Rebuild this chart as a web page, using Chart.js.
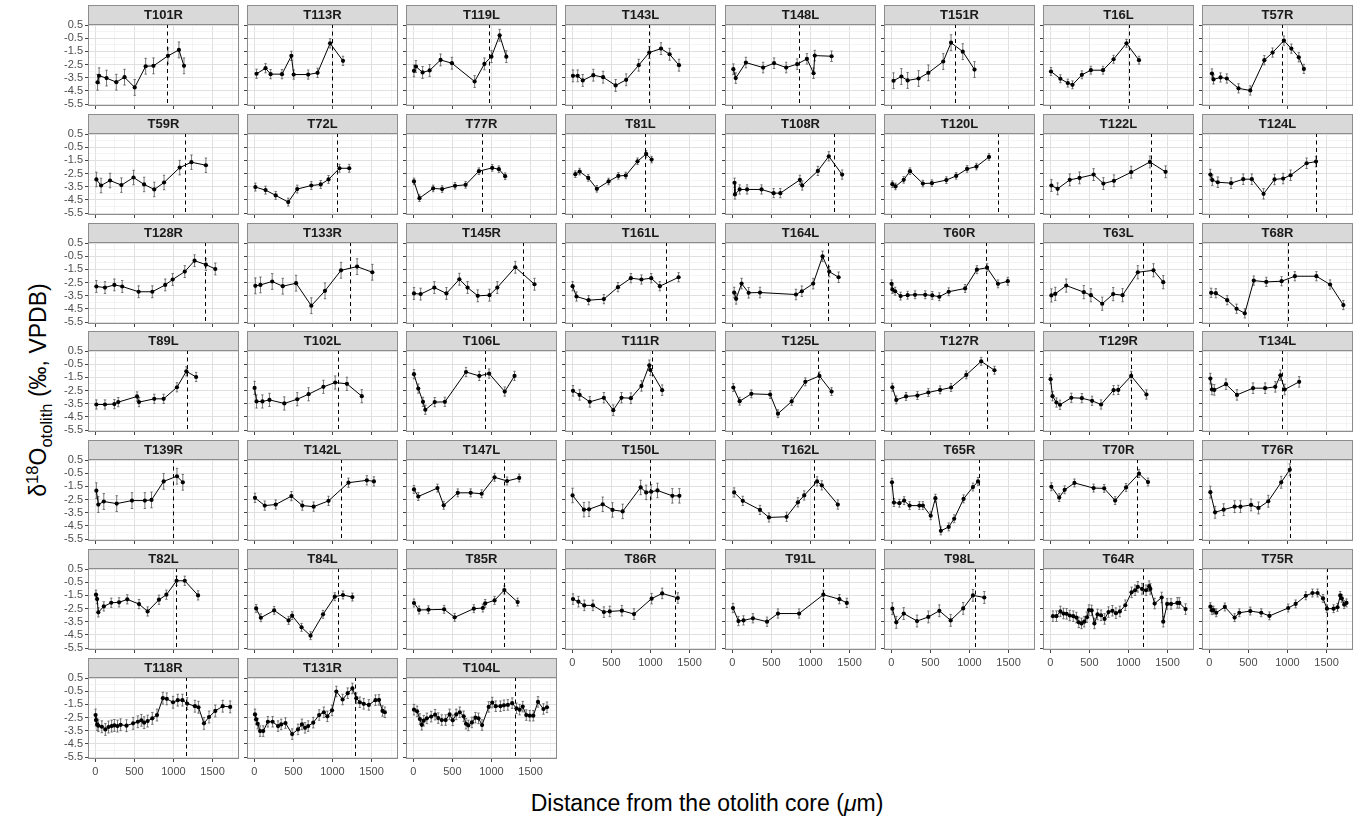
<!DOCTYPE html>
<html>
<head>
<meta charset="utf-8">
<script src="https://cdn.jsdelivr.net/npm/chart.js@4.4.1/dist/chart.umd.min.js"></script>
<style>
html, body { margin: 0; padding: 0; background: #fff; }
#fig { position: relative; width: 1361px; height: 816px; overflow: hidden; font-family: "Liberation Sans", Arial, sans-serif; }
#fig canvas { position: absolute; }
#ytitle { position: absolute; left: 40px; top: 390px; transform: translate(-50%, -50%) rotate(-90deg); white-space: nowrap; font-size: 23px; line-height: 1; color: #000; }
#xtitle { position: absolute; left: 707px; top: 803px; transform: translate(-50%, -50%); white-space: nowrap; font-size: 23px; line-height: 1; color: #000; }
#ytitle sup, #ytitle sub { font-size: 0.72em; }
</style>
</head>
<body>
<div id="fig">
  <div id="ytitle">δ<sup>18</sup>O<sub>otolith</sub> (‰, VPDB)</div>
  <div id="xtitle">Distance from the otolith core (<i>μ</i>m)</div>
</div>
<script>
// panels, row by row
const panelNames = [
  'T101R','T113R','T119L','T143L','T148L','T151R','T16L','T57R',
  'T59R','T72L','T77R','T81L','T108R','T120L','T122L','T124L',
  'T128R','T133R','T145R','T161L','T164L','T60R','T63L','T68R',
  'T89L','T102L','T106L','T111R','T125L','T127R','T129R','T134L',
  'T139R','T142L','T147L','T150L','T162L','T65R','T70R','T76R',
  'T82L','T84L','T85R','T86R','T91L','T98L','T64R','T75R',
  'T118R','T131R','T104L'
];

// distance from core (µm)
const panelX = [
  [30,50,145,270,375,505,645,745,930,1070,1135],
  [30,145,210,355,475,505,690,810,970,1135],
  [10,35,120,210,350,495,785,910,1000,1105,1190],
  [10,70,135,270,395,555,690,850,985,1135,1245,1365],
  [15,45,175,395,535,690,830,955,1040,1055,1270],
  [30,130,210,350,475,665,765,915,1065],
  [10,130,225,285,405,520,675,810,975,1135],
  [35,55,145,225,375,525,705,810,955,1050,1145,1210],

  [15,75,190,335,490,625,755,880,1080,1230,1415],
  [15,145,275,435,550,730,850,950,1090,1215],
  [10,80,255,370,535,670,840,1010,1095,1175],
  [40,95,205,315,465,590,685,835,945,1015],
  [30,35,95,190,375,530,615,865,895,1095,1235,1405],
  [15,55,160,240,405,520,705,830,970,1090,1250],
  [15,95,250,375,555,680,815,1035,1275,1475],
  [15,40,110,280,435,545,695,835,945,1040,1245,1365],

  [15,125,245,345,555,730,895,990,1145,1270,1415,1535],
  [15,80,230,365,535,730,905,1110,1315,1510],
  [10,95,270,425,590,695,825,975,1075,1305,1550],
  [5,55,210,405,585,750,885,1010,1120,1360],
  [25,50,120,210,355,815,890,1035,1155,1240,1360],
  [5,15,50,120,210,305,435,525,615,735,945,1095,1225,1365,1490],
  [15,65,205,430,520,665,805,925,1120,1320,1445],
  [25,85,230,350,455,570,730,925,1095,1370,1545,1715],

  [15,125,245,295,535,560,755,875,1045,1165,1290],
  [5,30,105,195,385,550,695,885,1035,1185,1375],
  [10,65,125,155,275,405,675,845,970,1170,1295],
  [10,95,225,405,525,630,750,885,985,1000,1150],
  [15,95,245,485,585,760,935,1115,1270],
  [15,65,190,335,475,625,765,960,1150,1320],
  [5,30,80,125,270,405,535,650,810,870,1035,1230],
  [15,35,65,215,355,560,715,845,910,965,1150],

  [15,40,110,275,470,635,720,875,1045,1120],
  [10,135,275,475,615,760,950,1205,1440,1530],
  [10,65,310,390,570,735,875,1040,1200,1355],
  [5,150,215,390,515,645,875,945,1010,1090,1280,1370],
  [25,135,355,470,695,840,920,1085,1145,1350],
  [10,35,105,165,235,360,405,505,565,635,735,805,925,1045,1110],
  [15,115,185,310,555,690,830,970,1135,1250],
  [15,75,185,325,400,535,630,755,920,1030],

  [10,25,40,110,205,305,410,560,670,815,910,1040,1145,1315],
  [25,85,255,440,485,605,720,880,1030,1135,1255],
  [10,75,195,395,530,775,890,920,1040,1165,1335],
  [10,80,155,265,405,480,635,790,1015,1150,1350],
  [10,80,145,265,445,585,855,1165,1370,1465],
  [15,65,160,330,475,615,760,920,1045,1190],
  [35,80,130,170,210,250,295,335,365,400,435,470,495,530,565,605,650,695,745,795,840,890,960,1040,1085,1120,1175,1225,1265,1280,1335,1425,1445,1495,1545,1625,1650,1730],
  [15,35,55,90,200,325,385,525,665,770,1010,1105,1235,1320,1385,1455,1505,1590,1640,1675,1695,1725,1755],

  [5,10,25,40,85,130,170,210,245,285,325,400,485,545,590,625,670,730,790,865,915,995,1055,1115,1175,1275,1320,1390,1455,1535,1630,1725],
  [10,25,45,75,115,175,235,305,345,400,485,560,610,650,690,755,830,890,935,995,1050,1130,1195,1255,1305,1350,1400,1465,1550,1595,1640,1670],
  [10,50,85,110,135,175,230,280,320,365,415,465,505,550,595,645,675,705,750,795,835,880,965,1010,1055,1115,1160,1210,1265,1320,1360,1400,1445,1490,1535,1595,1665,1710]
];

// d18O values (‰)
const panelY = [
  [-3.85,-3.35,-3.53,-3.84,-3.46,-4.24,-2.63,-2.60,-1.84,-1.39,-2.60],
  [-3.20,-2.78,-3.23,-3.23,-1.84,-3.26,-3.26,-3.13,-0.89,-2.22],
  [-2.98,-2.65,-3.10,-2.95,-2.15,-2.40,-3.79,-2.45,-1.90,-0.28,-1.90],
  [-3.36,-3.36,-3.71,-3.31,-3.46,-4.09,-3.66,-2.55,-1.59,-1.29,-1.72,-2.55],
  [-2.85,-3.53,-2.35,-2.73,-2.40,-2.73,-2.47,-2.07,-3.16,-1.82,-1.87],
  [-3.73,-3.41,-3.71,-3.56,-3.13,-2.27,-0.84,-1.52,-2.88],
  [-3.03,-3.58,-3.91,-4.04,-3.28,-2.93,-2.93,-2.10,-0.89,-2.17],
  [-3.18,-3.63,-3.48,-3.56,-4.31,-4.47,-2.17,-1.59,-0.68,-1.29,-1.95,-2.83],

  [-2.95,-3.41,-3.03,-3.38,-2.80,-3.33,-3.71,-3.18,-2.05,-1.64,-1.87],
  [-3.53,-3.76,-4.16,-4.67,-3.68,-3.41,-3.33,-2.95,-2.10,-2.10],
  [-3.10,-4.37,-3.63,-3.68,-3.43,-3.36,-2.32,-2.07,-2.17,-2.70],
  [-2.55,-2.35,-2.83,-3.66,-3.10,-2.68,-2.65,-1.57,-1.01,-1.44],
  [-3.20,-4.09,-3.71,-3.71,-3.71,-3.99,-3.99,-2.98,-3.41,-2.30,-1.19,-2.58],
  [-3.31,-3.48,-2.98,-2.32,-3.26,-3.23,-3.00,-2.68,-2.15,-1.97,-1.24],
  [-3.41,-3.66,-2.98,-2.83,-2.58,-3.26,-3.05,-2.40,-1.62,-2.37],
  [-2.58,-3.00,-3.16,-3.23,-2.93,-2.93,-4.04,-2.95,-2.88,-2.63,-1.72,-1.59],

  [-2.80,-2.88,-2.68,-2.80,-3.20,-3.20,-2.68,-2.27,-1.67,-0.84,-1.14,-1.47],
  [-2.75,-2.68,-2.42,-2.78,-2.55,-4.26,-3.13,-1.57,-1.29,-1.72],
  [-3.33,-3.38,-2.88,-3.33,-2.25,-2.88,-3.51,-3.46,-2.88,-1.34,-2.63],
  [-2.78,-3.56,-3.84,-3.76,-2.85,-2.17,-2.27,-2.17,-2.78,-2.10],
  [-3.26,-3.74,-2.58,-3.28,-3.26,-3.41,-3.16,-2.58,-0.51,-1.67,-2.10],
  [-2.60,-3.03,-3.16,-3.53,-3.46,-3.43,-3.43,-3.48,-3.58,-3.20,-2.95,-1.52,-1.37,-2.60,-2.40],
  [-3.48,-3.36,-2.73,-3.23,-3.46,-4.11,-3.38,-3.46,-1.72,-1.57,-2.47],
  [-3.28,-3.31,-3.84,-4.49,-4.84,-2.35,-2.45,-2.40,-2.02,-2.02,-2.65,-4.21],

  [-3.56,-3.56,-3.53,-3.38,-2.95,-3.38,-3.13,-3.13,-2.25,-1.04,-1.47],
  [-2.30,-3.33,-3.33,-3.21,-3.48,-3.16,-2.78,-2.22,-1.89,-1.99,-2.93],
  [-1.26,-2.35,-3.36,-3.96,-3.38,-3.36,-1.09,-1.39,-1.21,-2.58,-1.39],
  [-2.52,-2.83,-3.36,-3.05,-3.99,-3.05,-3.08,-2.15,-0.58,-0.94,-2.47],
  [-2.27,-3.31,-2.75,-2.80,-4.26,-3.33,-1.84,-1.39,-2.58],
  [-2.25,-3.21,-2.95,-2.88,-2.65,-2.45,-2.27,-1.31,-0.28,-0.96],
  [-1.64,-2.93,-3.41,-3.58,-3.05,-3.08,-3.28,-3.56,-2.47,-2.45,-1.39,-2.80],
  [-1.59,-2.42,-2.45,-2.02,-2.83,-2.32,-2.32,-2.22,-1.34,-2.42,-1.84],

  [-1.83,-2.88,-2.65,-2.81,-2.58,-2.58,-2.53,-1.12,-0.73,-1.19],
  [-2.37,-2.96,-2.88,-2.24,-2.96,-3.04,-2.60,-1.22,-1.04,-1.12],
  [-1.73,-2.27,-1.63,-2.94,-1.99,-1.99,-2.06,-0.81,-1.09,-0.86],
  [-2.19,-3.27,-3.24,-2.86,-3.29,-3.40,-1.58,-1.96,-1.91,-1.81,-2.22,-2.22],
  [-1.96,-2.60,-3.29,-3.86,-3.81,-2.71,-2.19,-1.12,-1.42,-2.88],
  [-1.19,-2.73,-2.78,-2.58,-2.96,-2.96,-2.96,-3.73,-2.40,-4.88,-4.58,-3.96,-2.45,-1.55,-1.12],
  [-1.53,-2.35,-1.76,-1.24,-1.63,-1.65,-2.58,-1.58,-0.53,-1.17],
  [-1.94,-3.47,-3.27,-3.04,-3.04,-2.91,-3.14,-2.63,-1.19,-0.24],

  [-1.45,-1.78,-2.79,-2.34,-2.06,-2.03,-1.80,-2.16,-2.72,-1.83,-1.45,-0.39,-0.39,-1.50],
  [-2.49,-3.20,-2.64,-3.40,-3.04,-3.93,-4.56,-2.94,-1.60,-1.47,-1.63],
  [-2.08,-2.61,-2.59,-2.56,-3.17,-2.51,-2.46,-2.11,-1.88,-1.09,-2.01],
  [-1.78,-1.98,-2.26,-2.26,-2.77,-2.72,-2.66,-2.92,-1.75,-1.35,-1.70],
  [-2.46,-3.45,-3.40,-3.24,-3.50,-2.88,-2.88,-1.45,-1.79,-2.07],
  [-2.51,-3.55,-2.88,-3.45,-3.14,-2.67,-3.40,-2.49,-1.50,-1.66],
  [-3.08,-3.08,-2.72,-2.88,-2.90,-3.03,-3.08,-3.19,-3.55,-3.63,-3.50,-3.16,-2.62,-2.64,-3.63,-2.95,-3.01,-3.29,-2.77,-2.67,-2.85,-2.72,-2.25,-1.27,-1.11,-0.85,-1.01,-1.11,-0.80,-1.01,-2.12,-1.66,-3.50,-2.15,-2.15,-2.07,-2.07,-2.54],
  [-2.36,-2.64,-2.62,-2.82,-2.38,-3.19,-2.82,-2.69,-2.82,-3.06,-2.46,-2.15,-1.53,-1.32,-1.32,-1.73,-2.51,-2.51,-2.41,-1.50,-1.73,-2.20,-2.07],

  [-2.31,-2.69,-3.02,-3.12,-3.20,-3.40,-3.22,-3.15,-3.10,-3.15,-3.05,-3.12,-2.94,-2.82,-2.71,-2.89,-2.77,-2.56,-2.31,-1.03,-1.08,-1.34,-1.18,-1.18,-1.44,-1.64,-1.72,-2.94,-2.46,-2.00,-1.64,-1.69],
  [-2.26,-2.64,-2.97,-3.53,-3.53,-2.82,-2.82,-3.15,-3.02,-2.92,-3.76,-3.40,-3.02,-3.28,-3.15,-2.89,-2.31,-2.10,-2.41,-1.95,-0.52,-1.13,-0.65,-0.29,-1.03,-1.34,-1.46,-1.54,-1.18,-1.16,-2.00,-2.10],
  [-1.90,-2.03,-2.61,-3.05,-2.74,-2.56,-2.43,-2.28,-2.54,-2.69,-2.69,-2.26,-2.71,-2.26,-2.10,-2.41,-2.97,-3.10,-2.87,-2.51,-2.56,-3.07,-1.69,-1.36,-1.64,-1.64,-1.57,-1.54,-1.41,-1.80,-1.90,-1.67,-2.31,-2.36,-2.36,-1.31,-1.85,-1.72]
];

// typical error bar half-width per panel (‰)
const panelErr = [
  0.6,0.35,0.45,0.45,0.4,0.6,0.3,0.35,
  0.55,0.3,0.25,0.25,0.35,0.25,0.45,0.4,
  0.45,0.6,0.45,0.35,0.4,0.3,0.5,0.35,
  0.35,0.5,0.35,0.4,0.3,0.3,0.35,0.4,
  0.6,0.35,0.3,0.55,0.35,0.3,0.3,0.45,
  0.35,0.3,0.3,0.4,0.35,0.45,0.4,0.3,
  0.45,0.4,0.4
];

// dashed reference line position (µm)
const refLines = [
  915,1000,975,985,850,810,1010,930,
  1145,1055,880,930,1305,1370,1290,1365,
  1405,1225,1405,1205,1225,1215,1185,1010,
  1175,1075,920,1025,1095,1225,1035,930,
  990,1110,1165,1000,1050,1120,1115,1035,
  1030,1075,1160,1310,1165,1070,1190,1500,
  1165,1290,1295
];

const xTickVals = [0, 500, 1000, 1500];
const xMinorVals = [250, 750, 1250, 1750];
const yTickVals = [0.5, -0.5, -1.5, -2.5, -3.5, -4.5, -5.5];
const yMinorVals = [0, -1, -2, -3, -4, -5];

// layout
const NCOL = 8;
const X_MIN = -92, X_MAX = 1838, Y_MIN = -5.65, Y_MAX = 0.58;
const PLOT_L0 = 88, COL_STEP = 159.15, PLOT_W = 151;
const STRIP_T0 = 5, ROW_STEP = 108.8, STRIP_H = 19, PLOT_H = 82;
const PAD_L = 32, PAD_R = 3, PAD_B = 22;
const FONT = '"Liberation Sans", Arial, sans-serif';

const panelDecor = {
  id: 'panelDecor',
  beforeDatasetsDraw(chart, args, opts) {
    const { ctx, scales: { x, y } } = chart;
    const ds = chart.data.datasets[0];
    ctx.save();
    ctx.strokeStyle = '#555';
    ctx.lineWidth = 0.8;
    ctx.beginPath();
    ds.data.forEach(p => {
      const px = x.getPixelForValue(p.x);
      const top = y.getPixelForValue(p.y + opts.err);
      const bot = y.getPixelForValue(p.y - opts.err);
      ctx.moveTo(px, top); ctx.lineTo(px, bot);
      ctx.moveTo(px - 1.2, top); ctx.lineTo(px + 1.2, top);
      ctx.moveTo(px - 1.2, bot); ctx.lineTo(px + 1.2, bot);
    });
    ctx.stroke();
    ctx.restore();
  },
  afterDatasetsDraw(chart, args, opts) {
    const { ctx, chartArea: a, scales: { x } } = chart;
    const px = Math.round(x.getPixelForValue(opts.refX)) + 0.5;
    ctx.save();
    ctx.strokeStyle = '#000';
    ctx.lineWidth = 1;
    ctx.setLineDash([4, 3.5]);
    ctx.beginPath();
    ctx.moveTo(px, a.top);
    ctx.lineTo(px, a.bottom);
    ctx.stroke();
    ctx.restore();
  },
  afterDraw(chart, args, opts) {
    const { ctx, chartArea: a } = chart;
    ctx.save();
    ctx.strokeStyle = '#8c8c8c';
    ctx.lineWidth = 1;
    ctx.strokeRect(a.left + 0.5, a.top + 0.5, a.width - 1, a.height - 1);
    // strip
    ctx.fillStyle = '#d9d9d9';
    ctx.fillRect(a.left, a.top - STRIP_H, a.width, STRIP_H);
    ctx.strokeRect(a.left + 0.5, a.top - STRIP_H + 0.5, a.width - 1, STRIP_H);
    ctx.fillStyle = '#1a1a1a';
    ctx.font = 'bold 13px ' + FONT;
    ctx.textAlign = 'center';
    ctx.textBaseline = 'middle';
    ctx.fillText(opts.title, (a.left + a.right) / 2, a.top - STRIP_H / 2 + 0.5);
    ctx.restore();
  }
};

function gridOpts(majors) {
  const isMajor = c => c.tick && majors.includes(c.tick.value);
  return {
    color: c => isMajor(c) ? '#e0e0e0' : '#efefef',
    lineWidth: c => isMajor(c) ? 1 : 0.7,
    tickLength: 3,
    tickWidth: 1,
    tickColor: c => isMajor(c) ? '#444' : 'rgba(0,0,0,0)'
  };
}

const fig = document.getElementById('fig');

panelNames.forEach((name, i) => {
  const r = Math.floor(i / NCOL), c = i % NCOL;
  const plotLeft = Math.round(PLOT_L0 + c * COL_STEP);
  const stripTop = Math.round(STRIP_T0 + r * ROW_STEP);
  const cv = document.createElement('canvas');
  cv.width = PAD_L + PLOT_W + PAD_R;
  cv.height = STRIP_H + PLOT_H + PAD_B;
  cv.style.left = (plotLeft - PAD_L) + 'px';
  cv.style.top = stripTop + 'px';
  fig.appendChild(cv);

  const showY = c === 0;
  const showX = i + NCOL >= panelNames.length;
  const pts = panelX[i].map((x, k) => ({ x: x, y: panelY[i][k] }));

  new Chart(cv, {
    type: 'scatter',
    data: {
      datasets: [{
        data: pts,
        showLine: true,
        borderColor: '#000',
        borderWidth: 1,
        pointRadius: 2.1,
        pointHoverRadius: 2.1,
        pointBackgroundColor: '#000',
        pointBorderWidth: 0
      }]
    },
    options: {
      responsive: false,
      animation: false,
      devicePixelRatio: 1,
      events: [],
      layout: { padding: { top: STRIP_H, right: PAD_R, left: 0, bottom: 0 } },
      scales: {
        x: {
          type: 'linear',
          min: X_MIN, max: X_MAX,
          bounds: 'data',
          afterBuildTicks: s => { s.ticks = xTickVals.concat(xMinorVals).sort((a, b) => a - b).map(v => ({ value: v })); },
          afterFit: s => { s.height = PAD_B; },
          ticks: {
            autoSkip: false, maxRotation: 0, padding: 3,
            color: '#4d4d4d', font: { family: FONT, size: 11 },
            callback: v => (showX && xTickVals.includes(v)) ? String(v) : ''
          },
          grid: gridOpts(xTickVals),
          border: { display: false }
        },
        y: {
          type: 'linear',
          min: Y_MIN, max: Y_MAX,
          bounds: 'data',
          afterBuildTicks: s => { s.ticks = yTickVals.concat(yMinorVals).sort((a, b) => a - b).map(v => ({ value: v })); },
          afterFit: s => { s.width = PAD_L; },
          ticks: {
            autoSkip: false, padding: 2,
            color: '#4d4d4d', font: { family: FONT, size: 11 },
            callback: v => (showY && yTickVals.includes(v)) ? v.toFixed(1) : ''
          },
          grid: gridOpts(yTickVals),
          border: { display: false }
        }
      },
      plugins: {
        legend: { display: false },
        tooltip: { enabled: false },
        panelDecor: { title: name, refX: refLines[i], err: panelErr[i] }
      }
    },
    plugins: [panelDecor]
  });
});
</script>
</body>
</html>
